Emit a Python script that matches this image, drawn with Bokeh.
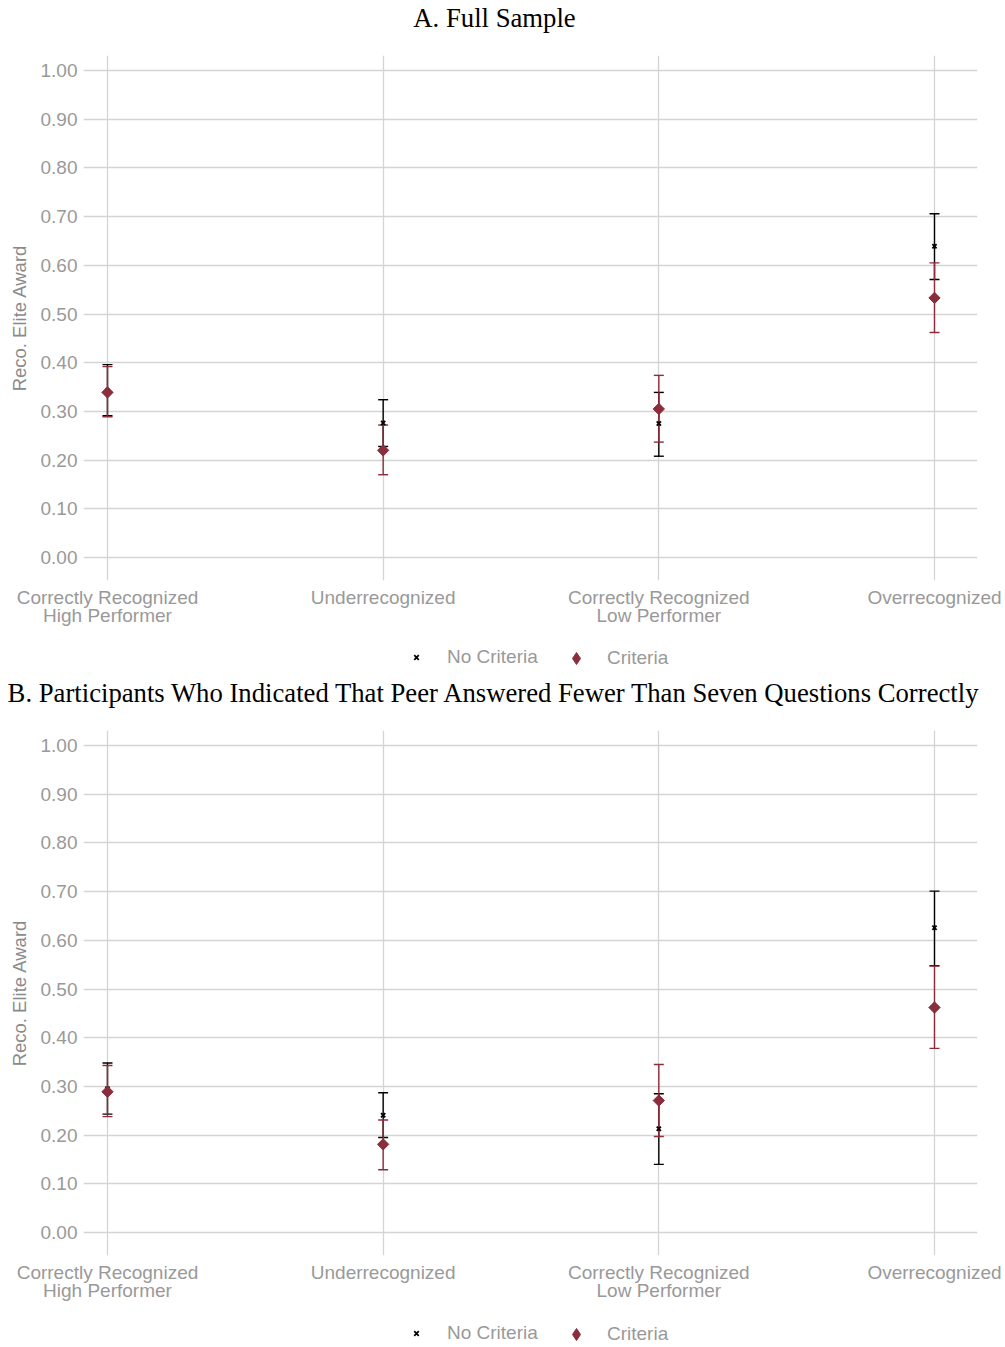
import math

from bokeh.plotting import figure
from bokeh.layouts import column
from bokeh.core.properties import value
from bokeh.models import (ColumnDataSource, Whisker, TeeHead, FixedTicker,
                          Legend, LegendItem)
from bokeh.embed import file_html
from bokeh.resources import INLINE

# ---- data -------------------------------------------------------------
categories = ["Correctly Recognized\nHigh Performer", "Underrecognized",
              "Correctly Recognized\nLow Performer", "Overrecognized"]
y_ticks = [0.0, 0.1, 0.2, 0.3, 0.4, 0.5, 0.6, 0.7, 0.8, 0.9, 1.0]
y_tick_labels = ["0.00", "0.10", "0.20", "0.30", "0.40", "0.50",
                 "0.60", "0.70", "0.80", "0.90", "1.00"]
series_labels = ["No Criteria", "Criteria"]

# Panel A: full sample
a_none_mean = [0.343, 0.276, 0.275, 0.639]
a_none_lower = [0.291, 0.228, 0.208, 0.571]
a_none_upper = [0.396, 0.324, 0.339, 0.706]
a_crit_mean = [0.339, 0.220, 0.305, 0.533]
a_crit_lower = [0.289, 0.170, 0.237, 0.462]
a_crit_upper = [0.392, 0.272, 0.374, 0.605]

# Panel B: peer answered fewer than seven questions correctly
b_none_mean = [0.295, 0.241, 0.213, 0.626]
b_none_lower = [0.243, 0.195, 0.140, 0.548]
b_none_upper = [0.348, 0.287, 0.285, 0.701]
b_crit_mean = [0.289, 0.181, 0.271, 0.462]
b_crit_lower = [0.238, 0.129, 0.197, 0.378]
b_crit_upper = [0.343, 0.231, 0.345, 0.547]

title_a = "A. Full Sample"
title_b = ("B. Participants Who Indicated That Peer Answered Fewer Than "
           "Seven Questions Correctly")

# ---- styling ----------------------------------------------------------
SANS = "Liberation Sans"
SERIF = "Liberation Serif"
GREY_TEXT = "#999999"
GRID = "#d4d4d4"
RED = "#8c2d3b"
BLACK = "#000000"
PAGE_W = 1005
DIAMOND = dict(marker="square", angle=math.pi / 4, angle_units="rad",
               fill_color=RED, line_color=RED)
DIAMOND_KEY = dict(marker="diamond", fill_color=RED, line_color=RED)
CROSS = dict(marker="x", line_color=BLACK, line_width=1.8)


def strip(height):
    """A blank full-width canvas used for titles and legends."""
    f = figure(width=PAGE_W, height=height, x_range=(0, PAGE_W),
               y_range=(0, height), output_backend="svg",
               toolbar_location=None, min_border=0,
               x_axis_type=None, y_axis_type=None, frame_align=False)
    f.outline_line_color = None
    f.grid.visible = False
    return f


def title_strip(text, height, from_top):
    f = strip(height)
    f.text(x=[PAGE_W / 2 - 8.5], y=[height - from_top], text=[text],
           text_font=value(SERIF), text_font_size="26.7px",
           text_color="black", text_align="center", text_baseline="middle")
    return f


def legend_strip(height, from_top):
    f = strip(height)
    # key renderers: one point parked outside the visible range
    park = dict(x=[-1000], y=[-1000])
    r_none = f.scatter("x", "y", source=ColumnDataSource(park), size=6, **CROSS)
    r_crit = f.scatter("x", "y", source=ColumnDataSource(park), size=12, **DIAMOND_KEY)
    cy = height - from_top
    common = dict(orientation="horizontal", label_text_font=SANS,
                  label_text_font_size="19px", label_text_color=GREY_TEXT,
                  border_line_color=None, background_fill_color=None,
                  padding=0, margin=0, label_height=20)
    f.add_layout(Legend(items=[LegendItem(label=series_labels[0], renderers=[r_none])],
                        location=(408, cy - 10), glyph_width=16, glyph_height=16,
                        label_standoff=23, **common), "center")
    f.add_layout(Legend(items=[LegendItem(label=series_labels[1], renderers=[r_crit])],
                        location=(561, cy - 15), glyph_width=30, glyph_height=30,
                        label_standoff=16, **common), "center")
    return f


def make_panel(none_mean, none_lower, none_upper,
               crit_mean, crit_lower, crit_upper, bottom):
    xs = list(range(1, len(categories) + 1))
    p = figure(frame_width=894, frame_height=525,
               x_range=(0.913, 4.156), y_range=(-0.0472, 1.0308),
               output_backend="svg", toolbar_location=None,
               min_border_left=83, min_border_right=28,
               min_border_top=17, min_border_bottom=bottom)
    p.outline_line_color = None
    p.background_fill_color = "white"
    p.border_fill_color = "white"

    # axes
    p.xaxis.ticker = FixedTicker(ticks=xs)
    p.xaxis.major_label_overrides = {x: c for x, c in zip(xs, categories)}
    p.yaxis.ticker = FixedTicker(ticks=y_ticks)
    p.yaxis.major_label_overrides = {v: s for v, s in zip(y_ticks, y_tick_labels)}
    for ax in (p.xaxis, p.yaxis):
        ax.axis_line_color = None
        ax.major_tick_line_color = None
        ax.minor_tick_line_color = None
        ax.major_label_text_font = SANS
        ax.major_label_text_font_size = "19px"
        ax.major_label_text_color = GREY_TEXT
        ax.major_label_text_line_height = 0.9
    p.xaxis.major_label_standoff = 0
    p.yaxis.major_label_standoff = 0
    p.yaxis.axis_label = "Reco. Elite Award"
    p.yaxis.axis_label_text_font = SANS
    p.yaxis.axis_label_text_font_size = "18.5px"
    p.yaxis.axis_label_text_font_style = "normal"
    p.yaxis.axis_label_text_color = "#8a8a8a"
    p.yaxis.axis_label_standoff = 8

    p.xgrid.grid_line_color = GRID
    p.ygrid.grid_line_color = GRID
    p.xgrid.grid_line_width = 1.3
    p.ygrid.grid_line_width = 1.3

    none_src = ColumnDataSource(dict(x=xs, m=none_mean, lo=none_lower, hi=none_upper))
    crit_src = ColumnDataSource(dict(x=xs, m=crit_mean, lo=crit_lower, hi=crit_upper))

    for src, col in ((none_src, BLACK), (crit_src, RED)):
        w = Whisker(source=src, base="x", lower="lo", upper="hi",
                    dimension="height", line_color=col, line_width=1.4,
                    lower_head=TeeHead(size=10, line_color=col, line_width=1.4),
                    upper_head=TeeHead(size=10, line_color=col, line_width=1.4))
        p.add_layout(w)

    p.scatter("x", "m", source=none_src, size=6, **CROSS)
    p.scatter("x", "m", source=crit_src, size=8, **DIAMOND)
    return p


top_a = title_strip(title_a, 38, 17)
pa = make_panel(a_none_mean, a_none_lower, a_none_upper,
                a_crit_mean, a_crit_lower, a_crit_upper, 60)
leg_a = legend_strip(36, 18)
top_b = title_strip(title_b, 37, 16)
pb = make_panel(b_none_mean, b_none_lower, b_none_upper,
                b_crit_mean, b_crit_lower, b_crit_upper, 62)
leg_b = legend_strip(30, 17)

p = column(top_a, pa, leg_a, top_b, pb, leg_b, spacing=0)
open("out.html", "w").write(file_html(p, INLINE))
